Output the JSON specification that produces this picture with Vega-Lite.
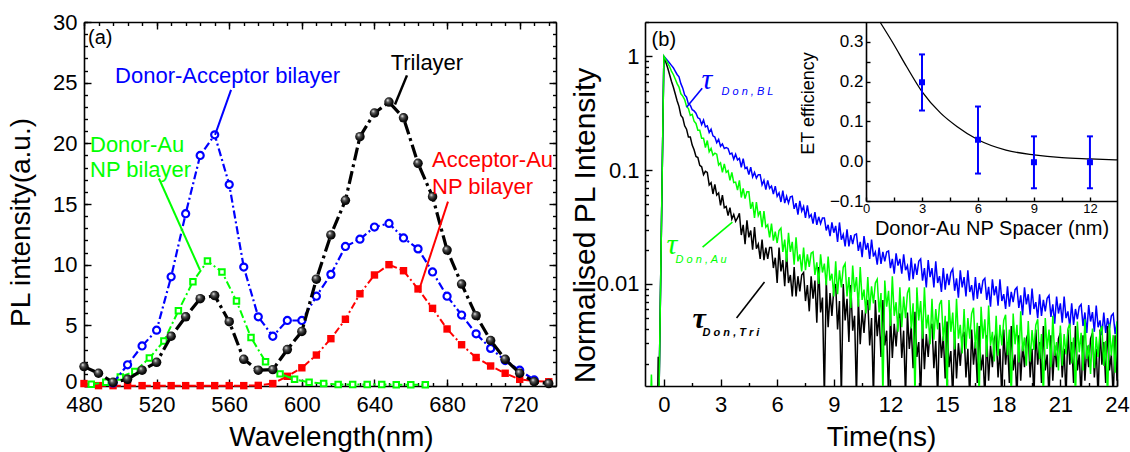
{
"$schema": "https://vega.github.io/schema/vega-lite/v6.json",
"width": 1033,
"height": 364,
"autosize": {"type": "none"},
"padding": {"left": 84, "top": 22, "right": 13, "bottom": 66},
"background": "#ffffff",
"config": {
  "view": {"stroke": null},
  "axis": {"grid": false, "domainColor": "#000000", "domainWidth": 1.6, "tickColor": "#000000", "tickWidth": 1.4, "labelFont": "Liberation Sans", "titleFont": "Liberation Sans", "labelColor": "#000000", "titleColor": "#000000", "titleFontWeight": "normal", "labelFlush": false, "labelOverlap": false, "labelBound": false},
  "text": {"font": "Liberation Sans"}
},
"datasets": {
  "trilayer": [{"nm":480,"I":1.6},{"nm":488,"I":1.05},{"nm":496,"I":0.3},{"nm":504,"I":0.55},{"nm":512,"I":1.3},{"nm":520,"I":1.95},{"nm":528,"I":4.1},{"nm":536,"I":5.7},{"nm":544,"I":7.2},{"nm":552,"I":7.45},{"nm":560,"I":5.3},{"nm":568,"I":2.2},{"nm":576,"I":1.3},{"nm":584,"I":1.35},{"nm":592,"I":3.0},{"nm":600,"I":4.5},{"nm":608,"I":8.8},{"nm":616,"I":12.45},{"nm":624,"I":15.3},{"nm":632,"I":20.55},{"nm":640,"I":22.5},{"nm":648,"I":23.4},{"nm":656,"I":22.1},{"nm":664,"I":18.35},{"nm":672,"I":15.6},{"nm":680,"I":11.2},{"nm":688,"I":8.4},{"nm":696,"I":5.8},{"nm":704,"I":3.75},{"nm":712,"I":2.2},{"nm":720,"I":1.05},{"nm":728,"I":0.35},{"nm":736,"I":0.2}],
  "daBilayer": [{"nm":496,"I":0.25},{"nm":504,"I":1.75},{"nm":512,"I":3.3},{"nm":520,"I":4.6},{"nm":528,"I":9.0},{"nm":536,"I":14.2},{"nm":544,"I":19.0},{"nm":552,"I":20.7},{"nm":560,"I":16.6},{"nm":568,"I":9.8},{"nm":576,"I":5.7},{"nm":584,"I":4.1},{"nm":592,"I":5.4},{"nm":600,"I":5.4},{"nm":608,"I":7.4},{"nm":616,"I":9.2},{"nm":624,"I":11.5},{"nm":632,"I":12.1},{"nm":640,"I":13.1},{"nm":648,"I":13.4},{"nm":656,"I":12.2},{"nm":664,"I":11.3},{"nm":672,"I":9.4},{"nm":680,"I":7.4},{"nm":688,"I":5.85},{"nm":696,"I":4.3},{"nm":704,"I":3.1},{"nm":712,"I":2.1},{"nm":720,"I":1.3},{"nm":728,"I":0.5}],
  "dAuBilayer": [{"nm":484,"I":0.15},{"nm":492,"I":0.3},{"nm":500,"I":0.75},{"nm":508,"I":1.2},{"nm":516,"I":2.3},{"nm":524,"I":3.7},{"nm":532,"I":6.2},{"nm":540,"I":8.6},{"nm":548,"I":10.3},{"nm":556,"I":9.4},{"nm":564,"I":7.0},{"nm":572,"I":4.0},{"nm":580,"I":2.0},{"nm":588,"I":1.0},{"nm":596,"I":0.55},{"nm":604,"I":0.3},{"nm":612,"I":0.2},{"nm":620,"I":0.12},{"nm":628,"I":0.12},{"nm":636,"I":0.12},{"nm":644,"I":0.12},{"nm":652,"I":0.1},{"nm":660,"I":0.1},{"nm":668,"I":0.1}],
  "aAuBilayer": [{"nm":480,"I":0.2},{"nm":488,"I":0.03},{"nm":496,"I":0.03},{"nm":504,"I":0.03},{"nm":512,"I":0.03},{"nm":520,"I":0.03},{"nm":528,"I":0.03},{"nm":536,"I":0.03},{"nm":544,"I":0.03},{"nm":552,"I":0.03},{"nm":560,"I":0.03},{"nm":568,"I":0.03},{"nm":576,"I":0.05},{"nm":584,"I":0.2},{"nm":592,"I":0.8},{"nm":600,"I":1.5},{"nm":608,"I":2.55},{"nm":616,"I":3.9},{"nm":624,"I":5.5},{"nm":632,"I":7.6},{"nm":640,"I":9.15},{"nm":648,"I":10.0},{"nm":656,"I":9.5},{"nm":664,"I":8.0},{"nm":672,"I":6.4},{"nm":680,"I":4.7},{"nm":688,"I":3.4},{"nm":696,"I":2.35},{"nm":704,"I":1.65},{"nm":712,"I":1.05},{"nm":720,"I":0.55},{"nm":728,"I":0.4},{"nm":736,"I":0.35}],
  "decay": [
{"t":-0.7,"b":0.001,"g":0.001,"k":0.001},
{"t":-0.66,"b":0.001,"g":0.0016,"k":0.001},
{"t":-0.62,"b":0.001,"g":0.001,"k":0.001},
{"t":-0.33,"b":0.001,"g":0.001,"k":0.001},
{"t":-0.3,"b":0.001,"g":0.001,"k":0.0023},
{"t":-0.26,"b":0.001,"g":0.001,"k":0.001},
{"t":0,"b":1,"g":1,"k":1},
{"t":0.1,"b":0.955,"g":0.933,"k":0.891},
{"t":0.2,"b":0.912,"g":0.871,"k":0.794},
{"t":0.3,"b":0.871,"g":0.813,"k":0.692},
{"t":0.4,"b":0.832,"g":0.741,"k":0.603},
{"t":0.5,"b":0.794,"g":0.692,"k":0.537},
{"t":0.6,"b":0.741,"g":0.631,"k":0.468},
{"t":0.7,"b":0.692,"g":0.575,"k":0.407},
{"t":0.8,"b":0.661,"g":0.537,"k":0.363},
{"t":0.9,"b":0.575,"g":0.468,"k":0.302},
{"t":1.0,"b":0.525,"g":0.447,"k":0.288},
{"t":1.1,"b":0.457,"g":0.417,"k":0.245},
{"t":1.2,"b":0.437,"g":0.363,"k":0.229},
{"t":1.3,"b":0.38,"g":0.347,"k":0.195},
{"t":1.4,"b":0.372,"g":0.302,"k":0.195},
{"t":1.5,"b":0.339,"g":0.309,"k":0.166},
{"t":1.6,"b":0.331,"g":0.269,"k":0.151},
{"t":1.7,"b":0.316,"g":0.257,"k":0.132},
{"t":1.8,"b":0.288,"g":0.224,"k":0.129},
{"t":1.9,"b":0.282,"g":0.224,"k":0.11},
{"t":2.0,"b":0.251,"g":0.191,"k":0.107},
{"t":2.1,"b":0.275,"g":0.191,"k":0.0912},
{"t":2.2,"b":0.24,"g":0.158,"k":0.0977},
{"t":2.3,"b":0.245,"g":0.182,"k":0.0955},
{"t":2.4,"b":0.214,"g":0.145,"k":0.0741},
{"t":2.5,"b":0.229,"g":0.155,"k":0.0776},
{"t":2.6,"b":0.2,"g":0.135,"k":0.0617},
{"t":2.7,"b":0.195,"g":0.141,"k":0.075},
{"t":2.8,"b":0.174,"g":0.138,"k":0.0603},
{"t":2.9,"b":0.186,"g":0.111,"k":0.0631},
{"t":3.0,"b":0.162,"g":0.116,"k":0.049},
{"t":3.1,"b":0.17,"g":0.0955,"k":0.0603},
{"t":3.2,"b":0.155,"g":0.1135,"k":0.0468},
{"t":3.3,"b":0.158,"g":0.0955,"k":0.0479},
{"t":3.4,"b":0.155,"g":0.099,"k":0.0398},
{"t":3.5,"b":0.138,"g":0.0813,"k":0.0468},
{"t":3.6,"b":0.141,"g":0.0955,"k":0.0372},
{"t":3.7,"b":0.1245,"g":0.0776,"k":0.0407},
{"t":3.8,"b":0.138,"g":0.0785,"k":0.0355},
{"t":3.9,"b":0.123,"g":0.0668,"k":0.038},
{"t":4.0,"b":0.127,"g":0.0813,"k":0.0417},
{"t":4.1,"b":0.106,"g":0.0575,"k":0.0269},
{"t":4.2,"b":0.126,"g":0.0692,"k":0.0331},
{"t":4.3,"b":0.1035,"g":0.0562,"k":0.0224},
{"t":4.4,"b":0.106,"g":0.0646,"k":0.0363},
{"t":4.5,"b":0.0912,"g":0.0646,"k":0.0257},
{"t":4.6,"b":0.106,"g":0.0457,"k":0.0295},
{"t":4.7,"b":0.0871,"g":0.0525,"k":0.02},
{"t":4.8,"b":0.0955,"g":0.038,"k":0.0316},
{"t":4.9,"b":0.0851,"g":0.0525,"k":0.0204},
{"t":5.0,"b":0.0912,"g":0.0398,"k":0.0224},
{"t":5.1,"b":0.0912,"g":0.0437,"k":0.0166},
{"t":5.2,"b":0.0741,"g":0.0316,"k":0.0245},
{"t":5.3,"b":0.0813,"g":0.0437,"k":0.0162},
{"t":5.4,"b":0.0676,"g":0.0316,"k":0.0209},
{"t":5.5,"b":0.0813,"g":0.0331,"k":0.0166},
{"t":5.6,"b":0.0692,"g":0.0257,"k":0.0209},
{"t":5.7,"b":0.0724,"g":0.0339,"k":0.0209},
{"t":5.8,"b":0.0617,"g":0.024,"k":0.0138},
{"t":5.9,"b":0.0724,"g":0.0288,"k":0.017},
{"t":6.0,"b":0.0589,"g":0.0229,"k":0.0102},
{"t":6.1,"b":0.0631,"g":0.0295,"k":0.0209},
{"t":6.2,"b":0.0525,"g":0.0309,"k":0.0129},
{"t":6.3,"b":0.0661,"g":0.0191,"k":0.0162},
{"t":6.4,"b":0.0513,"g":0.0245,"k":0.00955},
{"t":6.5,"b":0.0589,"g":0.0157,"k":0.0184},
{"t":6.6,"b":0.0513,"g":0.0282,"k":0.0102},
{"t":6.7,"b":0.0582,"g":0.0191,"k":0.012},
{"t":6.8,"b":0.0589,"g":0.0234,"k":0.00776},
{"t":6.9,"b":0.0457,"g":0.0148,"k":0.0141},
{"t":7.0,"b":0.0513,"g":0.0257,"k":0.00776},
{"t":7.1,"b":0.0407,"g":0.0158,"k":0.0117},
{"t":7.2,"b":0.0537,"g":0.0182,"k":0.0086},
{"t":7.3,"b":0.0437,"g":0.0129,"k":0.012},
{"t":7.4,"b":0.0479,"g":0.0209,"k":0.0126},
{"t":7.5,"b":0.038,"g":0.0132,"k":0.00708},
{"t":7.6,"b":0.049,"g":0.0182,"k":0.00977},
{"t":7.7,"b":0.0385,"g":0.0141,"k":0.00575},
{"t":7.8,"b":0.0407,"g":0.0186,"k":0.0117},
{"t":7.9,"b":0.0339,"g":0.0191,"k":0.00741},
{"t":8.0,"b":0.0427,"g":0.012,"k":0.0107},
{"t":8.1,"b":0.0331,"g":0.0155,"k":0.00457},
{"t":8.2,"b":0.0389,"g":0.01,"k":0.0141},
{"t":8.3,"b":0.0339,"g":0.0182,"k":0.00562},
{"t":8.4,"b":0.038,"g":0.0126,"k":0.00759},
{"t":8.5,"b":0.038,"g":0.0151,"k":0.001},
{"t":8.6,"b":0.0295,"g":0.00977,"k":0.0107},
{"t":8.7,"b":0.0331,"g":0.0174,"k":0.00417},
{"t":8.8,"b":0.0263,"g":0.0107,"k":0.00832},
{"t":8.9,"b":0.0347,"g":0.0123,"k":0.00525},
{"t":9.0,"b":0.0282,"g":0.00776,"k":0.00912},
{"t":9.1,"b":0.0324,"g":0.0158,"k":0.01},
{"t":9.2,"b":0.0234,"g":0.00813,"k":0.00398},
{"t":9.3,"b":0.0347,"g":0.0132,"k":0.00708},
{"t":9.4,"b":0.0245,"g":0.00933,"k":0.001},
{"t":9.5,"b":0.0272,"g":0.014,"k":0.01},
{"t":9.6,"b":0.0214,"g":0.0151,"k":0.00479},
{"t":9.7,"b":0.0302,"g":0.00776,"k":0.00741},
{"t":9.8,"b":0.0214,"g":0.0115,"k":0.00309},
{"t":9.9,"b":0.0269,"g":0.00617,"k":0.00977},
{"t":10.0,"b":0.0224,"g":0.0145,"k":0.00389},
{"t":10.1,"b":0.0269,"g":0.00851,"k":0.00525},
{"t":10.2,"b":0.0275,"g":0.0115,"k":0.001},
{"t":10.3,"b":0.0195,"g":0.00631,"k":0.00741},
{"t":10.4,"b":0.0234,"g":0.0141,"k":0.00295},
{"t":10.5,"b":0.0172,"g":0.00724,"k":0.00589},
{"t":10.6,"b":0.0263,"g":0.00891,"k":0.00372},
{"t":10.7,"b":0.02,"g":0.0055,"k":0.00646},
{"t":10.8,"b":0.0229,"g":0.0115,"k":0.00724},
{"t":10.9,"b":0.0166,"g":0.00589,"k":0.00288},
{"t":11.0,"b":0.0245,"g":0.00955,"k":0.00501},
{"t":11.1,"b":0.0174,"g":0.00676,"k":0.001},
{"t":11.2,"b":0.0191,"g":0.0102,"k":0.00724},
{"t":11.3,"b":0.0148,"g":0.011,"k":0.00347},
{"t":11.4,"b":0.0209,"g":0.00562,"k":0.00537},
{"t":11.5,"b":0.015,"g":0.00832,"k":0.00229},
{"t":11.6,"b":0.0191,"g":0.001,"k":0.00724},
{"t":11.7,"b":0.0158,"g":0.0107,"k":0.00288},
{"t":11.8,"b":0.0191,"g":0.00631,"k":0.00389},
{"t":11.9,"b":0.0195,"g":0.00871,"k":0.001},
{"t":12.0,"b":0.0138,"g":0.00427,"k":0.00562},
{"t":12.1,"b":0.0166,"g":0.0117,"k":0.00224},
{"t":12.2,"b":0.0123,"g":0.00525,"k":0.00447},
{"t":12.3,"b":0.0186,"g":0.00692,"k":0.00282},
{"t":12.4,"b":0.0145,"g":0.0038,"k":0.0049},
{"t":12.5,"b":0.0166,"g":0.00933,"k":0.0055},
{"t":12.6,"b":0.0123,"g":0.00417,"k":0.00224},
{"t":12.7,"b":0.0182,"g":0.00776,"k":0.00389},
{"t":12.8,"b":0.0132,"g":0.00501,"k":0.001},
{"t":12.9,"b":0.0145,"g":0.00832,"k":0.00562},
{"t":13.0,"b":0.0107,"g":0.00933,"k":0.00269},
{"t":13.1,"b":0.017,"g":0.00407,"k":0.00422},
{"t":13.2,"b":0.011,"g":0.00676,"k":0.00182},
{"t":13.3,"b":0.0151,"g":0.001,"k":0.00569},
{"t":13.4,"b":0.012,"g":0.00933,"k":0.00229},
{"t":13.5,"b":0.0158,"g":0.00479,"k":0.00309},
{"t":13.6,"b":0.0166,"g":0.00708,"k":0.001},
{"t":13.7,"b":0.0107,"g":0.00331,"k":0.00447},
{"t":13.8,"b":0.0138,"g":0.00933,"k":0.00178},
{"t":13.9,"b":0.00933,"g":0.00407,"k":0.00363},
{"t":14.0,"b":0.0162,"g":0.00537,"k":0.00229},
{"t":14.1,"b":0.0115,"g":0.00295,"k":0.00398},
{"t":14.2,"b":0.0138,"g":0.00741,"k":0.00447},
{"t":14.3,"b":0.00933,"g":0.00324,"k":0.00182},
{"t":14.4,"b":0.0158,"g":0.00603,"k":0.00316},
{"t":14.5,"b":0.0102,"g":0.00398,"k":0.001},
{"t":14.6,"b":0.0117,"g":0.00661,"k":0.00457},
{"t":14.7,"b":0.00851,"g":0.00724,"k":0.00224},
{"t":14.8,"b":0.0138,"g":0.00316,"k":0.00347},
{"t":14.9,"b":0.00891,"g":0.00525,"k":0.00148},
{"t":15.0,"b":0.0123,"g":0.001,"k":0.00468},
{"t":15.1,"b":0.00977,"g":0.00724,"k":0.00186},
{"t":15.2,"b":0.0126,"g":0.0038,"k":0.00257},
{"t":15.3,"b":0.0135,"g":0.00562,"k":0.001},
{"t":15.4,"b":0.00871,"g":0.00266,"k":0.00372},
{"t":15.5,"b":0.0112,"g":0.00741,"k":0.00148},
{"t":15.6,"b":0.00759,"g":0.00331,"k":0.00302},
{"t":15.7,"b":0.0132,"g":0.00437,"k":0.00191},
{"t":15.8,"b":0.00933,"g":0.00245,"k":0.00339},
{"t":15.9,"b":0.0115,"g":0.00603,"k":0.0038},
{"t":16.0,"b":0.00776,"g":0.00269,"k":0.00151},
{"t":16.1,"b":0.0132,"g":0.00501,"k":0.00269},
{"t":16.2,"b":0.00851,"g":0.00331,"k":0.001},
{"t":16.3,"b":0.00977,"g":0.0055,"k":0.00398},
{"t":16.4,"b":0.00716,"g":0.00617,"k":0.00195},
{"t":16.5,"b":0.0115,"g":0.00272,"k":0.00309},
{"t":16.6,"b":0.00741,"g":0.00457,"k":0.00135},
{"t":16.7,"b":0.0102,"g":0.001,"k":0.00427},
{"t":16.8,"b":0.00822,"g":0.00631,"k":0.00174},
{"t":16.9,"b":0.0107,"g":0.00331,"k":0.0024},
{"t":17.0,"b":0.0112,"g":0.0049,"k":0.001},
{"t":17.1,"b":0.00724,"g":0.00229,"k":0.00355},
{"t":17.2,"b":0.00944,"g":0.00646,"k":0.00141},
{"t":17.3,"b":0.00631,"g":0.00288,"k":0.00288},
{"t":17.4,"b":0.011,"g":0.0038,"k":0.00186},
{"t":17.5,"b":0.00794,"g":0.00209,"k":0.00331},
{"t":17.6,"b":0.00955,"g":0.00525,"k":0.00372},
{"t":17.7,"b":0.00646,"g":0.00234,"k":0.00151},
{"t":17.8,"b":0.011,"g":0.00437,"k":0.00269},
{"t":17.9,"b":0.00708,"g":0.00288,"k":0.001},
{"t":18.0,"b":0.00813,"g":0.00479,"k":0.00398},
{"t":18.1,"b":0.00603,"g":0.00537,"k":0.00195},
{"t":18.2,"b":0.00955,"g":0.00237,"k":0.00309},
{"t":18.3,"b":0.00631,"g":0.00398,"k":0.00135},
{"t":18.4,"b":0.00851,"g":0.001,"k":0.00427},
{"t":18.5,"b":0.00692,"g":0.0055,"k":0.00174},
{"t":18.6,"b":0.00891,"g":0.00295,"k":0.0024},
{"t":18.7,"b":0.00933,"g":0.00437,"k":0.001},
{"t":18.8,"b":0.00617,"g":0.00204,"k":0.00355},
{"t":18.9,"b":0.00794,"g":0.00575,"k":0.00141},
{"t":19.0,"b":0.00531,"g":0.00257,"k":0.00288},
{"t":19.1,"b":0.00933,"g":0.00339,"k":0.00186},
{"t":19.2,"b":0.00661,"g":0.00191,"k":0.00331},
{"t":19.3,"b":0.00813,"g":0.00473,"k":0.00372},
{"t":19.4,"b":0.00537,"g":0.00209,"k":0.00151},
{"t":19.5,"b":0.00912,"g":0.00394,"k":0.00269},
{"t":19.6,"b":0.00603,"g":0.00263,"k":0.001},
{"t":19.7,"b":0.00692,"g":0.00437,"k":0.00398},
{"t":19.8,"b":0.00501,"g":0.0049,"k":0.00195},
{"t":19.9,"b":0.00813,"g":0.00219,"k":0.00309},
{"t":20.0,"b":0.00525,"g":0.00363,"k":0.00135},
{"t":20.1,"b":0.00724,"g":0.001,"k":0.00427},
{"t":20.2,"b":0.00575,"g":0.00501,"k":0.00174},
{"t":20.3,"b":0.00749,"g":0.00269,"k":0.0024},
{"t":20.4,"b":0.00794,"g":0.00398,"k":0.001},
{"t":20.5,"b":0.00513,"g":0.00186,"k":0.00355},
{"t":20.6,"b":0.00661,"g":0.00525,"k":0.00141},
{"t":20.7,"b":0.00447,"g":0.00234,"k":0.00288},
{"t":20.8,"b":0.00776,"g":0.00309,"k":0.00186},
{"t":20.9,"b":0.0055,"g":0.00174,"k":0.00331},
{"t":21.0,"b":0.00676,"g":0.00432,"k":0.00372},
{"t":21.1,"b":0.00457,"g":0.00191,"k":0.00151},
{"t":21.2,"b":0.00776,"g":0.00363,"k":0.00269},
{"t":21.3,"b":0.00501,"g":0.0024,"k":0.001},
{"t":21.4,"b":0.00575,"g":0.00403,"k":0.00398},
{"t":21.5,"b":0.00422,"g":0.00447,"k":0.00195},
{"t":21.6,"b":0.00676,"g":0.002,"k":0.00309},
{"t":21.7,"b":0.00437,"g":0.00339,"k":0.00135},
{"t":21.8,"b":0.00603,"g":0.001,"k":0.00427},
{"t":21.9,"b":0.0049,"g":0.00468,"k":0.00174},
{"t":22.0,"b":0.00631,"g":0.00251,"k":0.0024},
{"t":22.1,"b":0.00661,"g":0.00372,"k":0.001},
{"t":22.2,"b":0.00427,"g":0.00174,"k":0.00355},
{"t":22.3,"b":0.00562,"g":0.0049,"k":0.00141},
{"t":22.4,"b":0.00372,"g":0.00219,"k":0.00288},
{"t":22.5,"b":0.00652,"g":0.00292,"k":0.00186},
{"t":22.6,"b":0.00468,"g":0.00162,"k":0.00331},
{"t":22.7,"b":0.00567,"g":0.00407,"k":0.00372},
{"t":22.8,"b":0.0038,"g":0.00182,"k":0.00151},
{"t":22.9,"b":0.00646,"g":0.00343,"k":0.00269},
{"t":23.0,"b":0.00417,"g":0.00229,"k":0.001},
{"t":23.1,"b":0.00479,"g":0.0038,"k":0.00398},
{"t":23.2,"b":0.00355,"g":0.00427,"k":0.00195},
{"t":23.3,"b":0.00562,"g":0.00191,"k":0.00309},
{"t":23.4,"b":0.00372,"g":0.00316,"k":0.00135},
{"t":23.5,"b":0.00501,"g":0.001,"k":0.00427},
{"t":23.6,"b":0.00407,"g":0.00447,"k":0.00174},
{"t":23.7,"b":0.00525,"g":0.00234,"k":0.0024},
{"t":23.8,"b":0.0055,"g":0.00355,"k":0.001},
{"t":23.9,"b":0.00363,"g":0.00166,"k":0.00355},
{"t":24.0,"b":0.00468,"g":0.00468,"k":0.00141}
  ],
  "etPoints": [{"s":3,"e":0.1985,"lo":0.1275,"hi":0.2685},{"s":6,"e":0.054,"lo":-0.031,"hi":0.1375},{"s":9,"e":-0.0025,"lo":-0.068,"hi":0.0625},{"s":12,"e":-0.0025,"lo":-0.068,"hi":0.0625}],
  "etFit": [{"s":0.75,"f":0.35},{"s":1.46,"f":0.296},{"s":2.18,"f":0.2375},{"s":3,"f":0.175},{"s":4,"f":0.121},{"s":4.87,"f":0.0875},{"s":6,"f":0.054},{"s":7.5,"f":0.028},{"s":9,"f":0.016},{"s":10.5,"f":0.009},{"s":12,"f":0.006},{"s":13.45,"f":0.0035}]
},
"layer": [
  {
    "layer": [
      {"data": {"name": "aAuBilayer"}, "mark": {"type": "line", "color": "#ff0000", "strokeWidth": 2, "strokeDash": [7, 3, 2, 3]},
       "encoding": {
         "x": {"field": "nm", "type": "quantitative", "scale": {"domain": [480, 740], "range": [0, 472], "nice": false, "zero": false},
               "axis": {"orient": "bottom", "values": [480, 520, 560, 600, 640, 680, 720], "tickSize": -7, "labelFontSize": 22, "labelPadding": 15, "title": "Wavelength(nm)", "titleFontSize": 28, "titleX": 247, "titleY": 51, "titleBaseline": "middle", "titleAlign": "center"}},
         "y": {"field": "I", "type": "quantitative", "scale": {"domain": [0, 30], "nice": false, "zero": false},
               "axis": {"orient": "left", "values": [0, 5, 10, 15, 20, 25, 30], "tickSize": -7, "labelFontSize": 22, "labelPadding": 14, "labelOffset": {"condition": {"test": "datum.value === 0", "value": -5}, "value": 0}, "title": "PL intensity(a.u.)", "titleFontSize": 28, "titleX": -63, "titleY": 200, "titleAngle": -90, "titleBaseline": "middle", "titleAlign": "center"}}
       }},
      {"data": {"name": "aAuBilayer"}, "mark": {"type": "point", "shape": "square", "filled": true, "color": "#ff0000", "size": 55, "opacity": 1},
       "encoding": {"x": {"field": "nm", "type": "quantitative", "axis": null}, "y": {"field": "I", "type": "quantitative", "axis": null}}},
      {"data": {"name": "dAuBilayer"}, "mark": {"type": "line", "color": "#00ff00", "strokeWidth": 2, "strokeDash": [8, 3, 2, 3]},
       "encoding": {
         "x": {"field": "nm", "type": "quantitative", "axis": {"orient": "bottom", "values": [480,488,496,504,512,520,528,536,544,552,560,568,576,584,592,600,608,616,624,632,640,648,656,664,672,680,688,696,704,712,720,728,736], "tickSize": -3.5, "labels": false, "domain": false, "title": null}},
         "y": {"field": "I", "type": "quantitative", "axis": {"orient": "left", "values": [0,1,2,3,4,5,6,7,8,9,10,11,12,13,14,15,16,17,18,19,20,21,22,23,24,25,26,27,28,29,30], "tickSize": -3.5, "labels": false, "domain": false, "title": null}}
       }},
      {"data": {"name": "dAuBilayer"}, "mark": {"type": "point", "shape": "square", "filled": true, "fill": "#ffffff", "stroke": "#00ff00", "strokeWidth": 2, "size": 30, "opacity": 1},
       "encoding": {"x": {"field": "nm", "type": "quantitative", "axis": null}, "y": {"field": "I", "type": "quantitative", "axis": null}}},
      {"data": {"name": "daBilayer"}, "mark": {"type": "line", "color": "#0000ff", "strokeWidth": 2.2, "strokeDash": [8, 3, 2, 3]},
       "encoding": {
         "x": {"field": "nm", "type": "quantitative", "axis": {"orient": "top", "values": [480, 520, 560, 600, 640, 680, 720], "tickSize": -7, "labels": false, "title": null}},
         "y": {"field": "I", "type": "quantitative", "axis": {"orient": "right", "offset": -561, "values": [0, 5, 10, 15, 20, 25, 30], "tickSize": -7, "labels": false, "title": null}}
       }},
      {"data": {"name": "daBilayer"}, "mark": {"type": "point", "shape": "circle", "filled": true, "fill": "#ffffff", "stroke": "#0000ff", "strokeWidth": 2.2, "size": 50, "opacity": 1},
       "encoding": {"x": {"field": "nm", "type": "quantitative", "axis": null}, "y": {"field": "I", "type": "quantitative", "axis": null}}},
      {"data": {"name": "trilayer"}, "mark": {"type": "line", "color": "#000000", "strokeWidth": 3.2, "strokeDash": [13, 4, 3, 4]},
       "encoding": {
         "x": {"field": "nm", "type": "quantitative", "axis": {"orient": "top", "values": [480,488,496,504,512,520,528,536,544,552,560,568,576,584,592,600,608,616,624,632,640,648,656,664,672,680,688,696,704,712,720,728,736], "tickSize": -3.5, "labels": false, "domain": false, "title": null}},
         "y": {"field": "I", "type": "quantitative", "axis": {"orient": "right", "offset": -561, "values": [0,1,2,3,4,5,6,7,8,9,10,11,12,13,14,15,16,17,18,19,20,21,22,23,24,25,26,27,28,29,30], "tickSize": -3.5, "labels": false, "domain": false, "title": null}}
       }},
      {"data": {"name": "trilayer"}, "mark": {"type": "point", "shape": "circle", "filled": true, "size": 90, "opacity": 1, "strokeWidth": 0,
         "fill": {"gradient": "radial", "x1": 0.36, "y1": 0.3, "r1": 0.02, "x2": 0.45, "y2": 0.45, "r2": 0.55, "stops": [{"offset": 0, "color": "#ececec"}, {"offset": 0.3, "color": "#5c5c5c"}, {"offset": 0.7, "color": "#161616"}, {"offset": 1, "color": "#000000"}]}},
       "encoding": {"x": {"field": "nm", "type": "quantitative", "axis": null}, "y": {"field": "I", "type": "quantitative", "axis": null}}},
      {"data": {"values": [{}]}, "mark": {"type": "text", "text": "(a)", "fontSize": 20, "align": "left", "baseline": "middle", "color": "#000000"},
       "encoding": {"x": {"datum": 482.2, "axis": null}, "y": {"datum": 28.7, "axis": null}}},
      {"data": {"values": [{}]}, "mark": {"type": "text", "text": "Donor-Acceptor bilayer", "fontSize": 22, "align": "left", "baseline": "middle", "color": "#0000ff"},
       "encoding": {"x": {"datum": 497.1, "axis": null}, "y": {"datum": 25.55, "axis": null}}},
      {"data": {"values": [{}]}, "mark": {"type": "text", "text": "Trilayer", "fontSize": 22, "align": "center", "baseline": "middle", "color": "#000000"},
       "encoding": {"x": {"datum": 668.9, "axis": null}, "y": {"datum": 26.6, "axis": null}}},
      {"data": {"values": [{}]}, "mark": {"type": "text", "text": "Donor-Au", "fontSize": 22, "align": "left", "baseline": "middle", "color": "#00ff00"},
       "encoding": {"x": {"datum": 483.3, "axis": null}, "y": {"datum": 19.9, "axis": null}}},
      {"data": {"values": [{}]}, "mark": {"type": "text", "text": "NP bilayer", "fontSize": 22, "align": "left", "baseline": "middle", "color": "#00ff00"},
       "encoding": {"x": {"datum": 483.3, "axis": null}, "y": {"datum": 17.8, "axis": null}}},
      {"data": {"values": [{}]}, "mark": {"type": "text", "text": "Acceptor-Au", "fontSize": 22, "align": "left", "baseline": "middle", "color": "#ff0000"},
       "encoding": {"x": {"datum": 671.7, "axis": null}, "y": {"datum": 18.63, "axis": null}}},
      {"data": {"values": [{}]}, "mark": {"type": "text", "text": "NP bilayer", "fontSize": 22, "align": "left", "baseline": "middle", "color": "#ff0000"},
       "encoding": {"x": {"datum": 671.7, "axis": null}, "y": {"datum": 16.4, "axis": null}}},
      {"data": {"values": [{}]}, "mark": {"type": "rule", "color": "#0000ff", "strokeWidth": 2},
       "encoding": {"x": {"datum": 561, "axis": null}, "y": {"datum": 24.4, "axis": null}, "x2": {"datum": 552.2}, "y2": {"datum": 20.7}}},
      {"data": {"values": [{}]}, "mark": {"type": "rule", "color": "#000000", "strokeWidth": 2.5},
       "encoding": {"x": {"datum": 657.9, "axis": null}, "y": {"datum": 25.6, "axis": null}, "x2": {"datum": 651.3}, "y2": {"datum": 23.2}}},
      {"data": {"values": [{}]}, "mark": {"type": "rule", "color": "#00ff00", "strokeWidth": 2},
       "encoding": {"x": {"datum": 521.3, "axis": null}, "y": {"datum": 17.1, "axis": null}, "x2": {"datum": 543.9}, "y2": {"datum": 9.56}}},
      {"data": {"values": [{}]}, "mark": {"type": "rule", "color": "#ff0000", "strokeWidth": 2},
       "encoding": {"x": {"datum": 680.5, "axis": null}, "y": {"datum": 15.2, "axis": null}, "x2": {"datum": 665.1}, "y2": {"datum": 8.16}}}
    ],
    "resolve": {"axis": {"x": "independent", "y": "independent"}}
  },
  {
    "layer": [
      {"data": {"name": "decay"}, "mark": {"type": "line", "color": "#0000ff", "strokeWidth": 1.5, "clip": true},
       "encoding": {
         "x": {"field": "t", "type": "quantitative", "scale": {"domain": [-1, 24], "range": [561, 1033], "nice": false, "zero": false},
               "axis": {"orient": "bottom", "values": [0, 3, 6, 9, 12, 15, 18, 21, 24], "tickSize": -7, "labelFontSize": 22, "labelPadding": 15, "title": "Time(ns)", "titleFontSize": 28, "titleY": 51, "titleBaseline": "middle", "titleAlign": "center"}},
         "y": {"field": "b", "type": "quantitative", "scale": {"type": "log", "domain": [0.00127, 2], "nice": false},
               "axis": {"orient": "left", "offset": -561, "values": [0.01, 0.1, 1], "labelExpr": "datum.value > 0.5 ? '1' : datum.value > 0.05 ? '0.1' : '0.01'", "tickSize": -7, "labelFontSize": 22, "labelPadding": 13, "title": "Normalised PL Intensity", "titleFontSize": 30, "titleX": -60, "titleY": 203, "titleAngle": -90, "titleBaseline": "middle", "titleAlign": "center"}}
       }},
      {"data": {"name": "decay"}, "mark": {"type": "line", "color": "#000000", "strokeWidth": 1.5, "clip": true},
       "encoding": {
         "x": {"field": "t", "type": "quantitative", "axis": {"orient": "bottom", "values": [1.5, 4.5, 7.5, 10.5, 13.5, 16.5, 19.5, 22.5], "tickSize": -3.5, "labels": false, "domain": false, "title": null}},
         "y": {"field": "k", "type": "quantitative", "axis": {"orient": "left", "offset": -561, "values": [0.002,0.003,0.004,0.005,0.006,0.007,0.008,0.009,0.02,0.03,0.04,0.05,0.06,0.07,0.08,0.09,0.2,0.3,0.4,0.5,0.6,0.7,0.8,0.9,2], "tickSize": -3.5, "labels": false, "domain": false, "title": null}}
       }},
      {"data": {"name": "decay"}, "mark": {"type": "line", "color": "#00ff00", "strokeWidth": 1.5, "clip": true},
       "encoding": {
         "x": {"field": "t", "type": "quantitative", "axis": {"orient": "top", "values": [0], "ticks": false, "labels": false, "title": null}},
         "y": {"field": "g", "type": "quantitative", "axis": {"orient": "right", "values": [1], "ticks": false, "labels": false, "title": null}}
       }},
      {"data": {"values": [{}]}, "mark": {"type": "text", "text": "(b)", "fontSize": 20, "align": "left", "baseline": "middle", "color": "#000000"},
       "encoding": {"x": {"datum": -0.65, "axis": null}, "y": {"datum": 1.38, "axis": null}}},
      {"data": {"values": [{}]}, "mark": {"type": "text", "text": "τ", "font": "Liberation Serif", "fontStyle": "italic", "fontSize": 30, "align": "left", "baseline": "middle", "color": "#0000ff"},
       "encoding": {"x": {"datum": 1.99, "axis": null}, "y": {"datum": 0.62, "axis": null}}},
      {"data": {"values": [{}]}, "mark": {"type": "text", "text": "D o n , B L", "fontStyle": "italic", "fontSize": 11, "align": "left", "baseline": "middle", "color": "#0000ff"},
       "encoding": {"x": {"datum": 3.05, "axis": null}, "y": {"datum": 0.483, "axis": null}}},
      {"data": {"values": [{}]}, "mark": {"type": "text", "text": "τ", "font": "Liberation Serif", "fontStyle": "italic", "fontSize": 30, "align": "left", "baseline": "middle", "color": "#00ff00"},
       "encoding": {"x": {"datum": 0.14, "axis": null}, "y": {"datum": 0.0222, "axis": null}}},
      {"data": {"values": [{}]}, "mark": {"type": "text", "text": "D o n , A u", "fontStyle": "italic", "fontSize": 11, "align": "left", "baseline": "middle", "color": "#00ff00"},
       "encoding": {"x": {"datum": 0.62, "axis": null}, "y": {"datum": 0.0163, "axis": null}}},
      {"data": {"values": [{}]}, "mark": {"type": "text", "text": "τ", "font": "Liberation Serif", "fontStyle": "italic", "fontWeight": "bold", "fontSize": 30, "align": "left", "baseline": "middle", "color": "#000000"},
       "encoding": {"x": {"datum": 1.51, "axis": null}, "y": {"datum": 0.0049, "axis": null}}},
      {"data": {"values": [{}]}, "mark": {"type": "text", "text": "D o n , T r i", "fontStyle": "italic", "fontWeight": "bold", "fontSize": 11, "align": "left", "baseline": "middle", "color": "#000000"},
       "encoding": {"x": {"datum": 2.05, "axis": null}, "y": {"datum": 0.00372, "axis": null}}},
      {"data": {"values": [{}]}, "mark": {"type": "rule", "color": "#0000ff", "strokeWidth": 1.6},
       "encoding": {"x": {"datum": 2.03, "axis": null}, "y": {"datum": 0.524, "axis": null}, "x2": {"datum": 1.2}, "y2": {"datum": 0.357}}},
      {"data": {"values": [{}]}, "mark": {"type": "rule", "color": "#00ff00", "strokeWidth": 1.6},
       "encoding": {"x": {"datum": 2.05, "axis": null}, "y": {"datum": 0.0211, "axis": null}, "x2": {"datum": 3.63}, "y2": {"datum": 0.035}}},
      {"data": {"values": [{}]}, "mark": {"type": "rule", "color": "#000000", "strokeWidth": 1.6},
       "encoding": {"x": {"datum": 3.85, "axis": null}, "y": {"datum": 0.00503, "axis": null}, "x2": {"datum": 5.33}, "y2": {"datum": 0.0104}}}
    ],
    "resolve": {"axis": {"x": "independent", "y": "independent"}}
  },
  {
    "layer": [
      {"data": {"name": "etFit"}, "mark": {"type": "line", "color": "#000000", "strokeWidth": 1.3, "interpolate": "monotone"},
       "encoding": {
         "x": {"field": "s", "type": "quantitative", "scale": {"domain": [0, 13.45], "range": [782, 1033], "nice": false, "zero": false},
               "axis": {"orient": "bottom", "offset": -185, "values": [0, 1.5, 3, 4.5, 6, 7.5, 9, 10.5, 12], "tickSize": -4, "labelExpr": "datum.value % 3 === 0 ? datum.label : ''", "labelFontSize": 13, "labelPadding": 5, "title": "Donor-Au NP Spacer (nm)", "titleFontSize": 20, "titleY": 27, "titleBaseline": "middle", "titleAlign": "center"}},
         "y": {"field": "f", "type": "quantitative", "scale": {"domain": [-0.1, 0.35], "range": [179, 0], "nice": false, "zero": false},
               "axis": {"orient": "left", "offset": -782, "values": [-0.1, -0.05, 0, 0.05, 0.1, 0.15, 0.2, 0.25, 0.3], "tickSize": -4, "labelExpr": "abs(datum.value * 20 % 2) > 0.5 ? '' : format(datum.value, '.1f')", "labelFontSize": 17, "labelPadding": 7, "title": "ET efficiency", "titleFontSize": 18, "titleX": -58, "titleY": 81, "titleAngle": -90, "titleBaseline": "middle", "titleAlign": "center"}}
       }},
      {"data": {"name": "etPoints"}, "mark": {"type": "rule", "color": "#0000ff", "strokeWidth": 2},
       "encoding": {"x": {"field": "s", "type": "quantitative", "axis": null}, "y": {"field": "lo", "type": "quantitative", "axis": null}, "y2": {"field": "hi"}}},
      {"data": {"name": "etPoints"}, "mark": {"type": "tick", "orient": "horizontal", "color": "#0000ff", "size": 6, "thickness": 2, "opacity": 1},
       "encoding": {"x": {"field": "s", "type": "quantitative", "axis": null}, "y": {"field": "lo", "type": "quantitative", "axis": null}}},
      {"data": {"name": "etPoints"}, "mark": {"type": "tick", "orient": "horizontal", "color": "#0000ff", "size": 6, "thickness": 2, "opacity": 1},
       "encoding": {"x": {"field": "s", "type": "quantitative", "axis": null}, "y": {"field": "hi", "type": "quantitative", "axis": null}}},
      {"data": {"name": "etPoints"}, "mark": {"type": "square", "color": "#0000ff", "size": 36, "opacity": 1},
       "encoding": {"x": {"field": "s", "type": "quantitative", "axis": null}, "y": {"field": "e", "type": "quantitative", "axis": null}}}
    ],
    "resolve": {"axis": {"x": "independent", "y": "independent"}}
  }
],
"resolve": {"scale": {"x": "independent", "y": "independent"}, "axis": {"x": "independent", "y": "independent"}}
}
